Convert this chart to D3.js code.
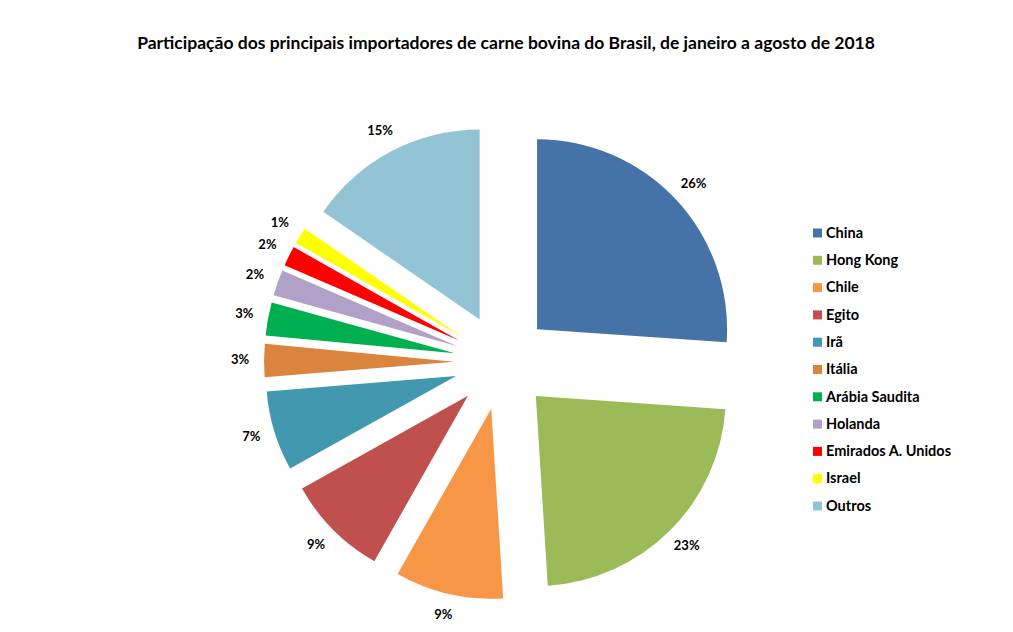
<!DOCTYPE html>
<meta charset="utf-8">
<script src="https://d3js.org/d3.v7.min.js"></script>
<style>
body { margin: 0; background: #fff; }
text { font-family: Lato, "Liberation Sans", sans-serif; font-weight: bold; fill: #000; }
</style>
<div id="chart"></div>
<script>
// data (share of exports, %)
var countries = ["China", "Hong Kong", "Chile", "Egito", "Irã", "Itália",
                 "Arábia Saudita", "Holanda", "Emirados A. Unidos", "Israel", "Outros"];
var shares = [26.1, 22.9, 9.2, 8.7, 6.8, 2.8, 2.8, 2.2, 1.7, 1.4, 15.4];
var colors = ["#4572A7", "#9BBB59", "#F79646", "#C0504D", "#4298AF", "#DB843D",
              "#00B050", "#B1A0C7", "#FF0000", "#FFFF00", "#93C4D5"];

var width = 1013, height = 632;
var cx = 502, cy = 362, radius = 190, explode = 48;

var svg = d3.select("#chart").append("svg")
  .attr("width", width)
  .attr("height", height);

svg.append("text")
  .attr("x", 506)
  .attr("y", 49)
  .attr("text-anchor", "middle")
  .style("font-size", "17.5px")
  .text("Participação dos principais importadores de carne bovina do Brasil, de janeiro a agosto de 2018");

var data = countries.map(function(c, i) { return {name: c, value: shares[i], color: colors[i]}; });

var pie = d3.pie().sort(null).value(function(d) { return d.value; });
var arc = d3.arc().innerRadius(0).outerRadius(radius);

var g = svg.append("g").attr("transform", "translate(" + cx + "," + cy + ")");

var slices = g.selectAll("g.slice")
  .data(pie(data))
  .enter().append("g")
    .attr("class", "slice");

function mid(d) { return (d.startAngle + d.endAngle) / 2; }

slices.append("path")
  .attr("d", arc)
  .attr("fill", function(d) { return d.data.color; })
  .attr("transform", function(d) {
    var a = mid(d);
    return "translate(" + (Math.sin(a) * explode) + "," + (-Math.cos(a) * explode) + ")";
  });

slices.append("text")
  .attr("x", function(d) { return Math.sin(mid(d)) * (explode + radius + 24); })
  .attr("y", function(d) { return -Math.cos(mid(d)) * (explode + radius + 22); })
  .attr("text-anchor", "middle")
  .attr("dominant-baseline", "middle")
  .style("font-size", "13px")
  .text(function(d) { return Math.round(d.data.value) + "%"; });

// legend
var legend = svg.append("g").attr("transform", "translate(813,233)");
var rows = legend.selectAll("g")
  .data(data)
  .enter().append("g")
    .attr("transform", function(d, i) { return "translate(0," + (i * 27.3) + ")"; });

rows.append("rect")
  .attr("x", 0).attr("y", -4.5)
  .attr("width", 9).attr("height", 9)
  .attr("fill", function(d) { return d.color; });

rows.append("text")
  .attr("x", 13)
  .attr("y", 1)
  .attr("dominant-baseline", "middle")
  .style("font-size", "14.5px")
  .text(function(d) { return d.name; });
</script>
